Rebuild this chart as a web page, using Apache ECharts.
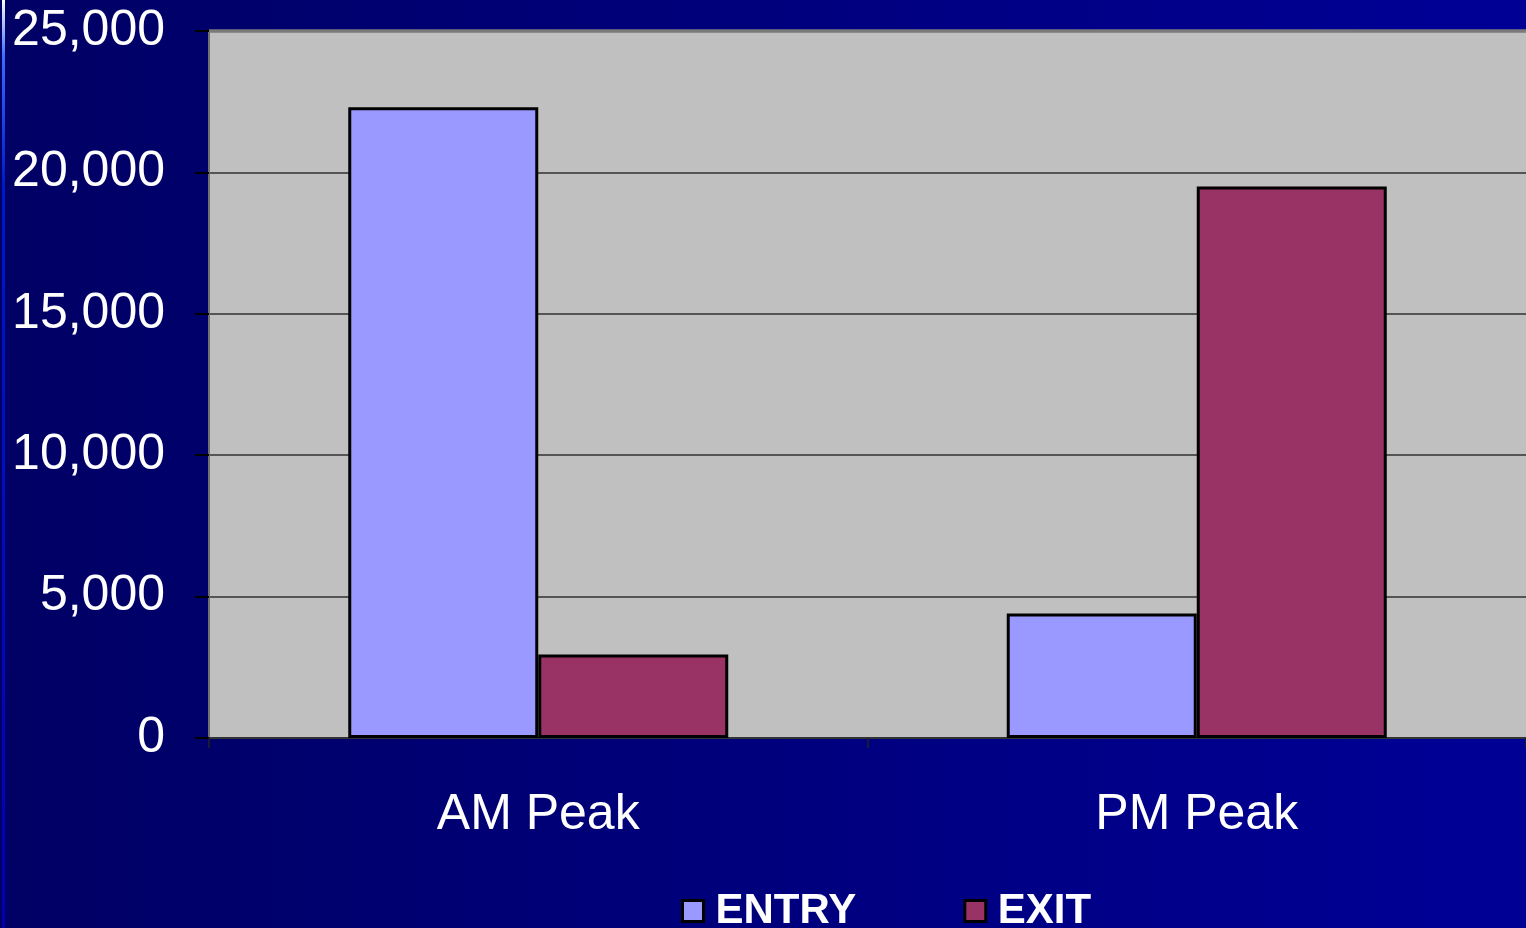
<!DOCTYPE html>
<html>
<head>
<meta charset="utf-8">
<title>Peak Entry / Exit</title>
<script src="https://cdn.jsdelivr.net/npm/echarts@6/dist/echarts.min.js"></script>
<style>
  html, body { margin: 0; padding: 0; width: 100%; height: 100%; overflow: hidden; }
  #chart { width: 1526px; height: 928px; }
</style>
</head>
<body>
<div id="chart"></div>
<script>
// Peak-period volumes
const categories = ['AM Peak', 'PM Peak'];
const entryValues = [22300, 4400];
const exitValues = [2950, 19500];
const yTicks = [0, 5000, 10000, 15000, 20000, 25000];

const FONT = '"Liberation Sans", Arial, sans-serif';
const chart = echarts.init(document.getElementById('chart'));

const fmt = v => v.toLocaleString('en-US');

chart.setOption({
  backgroundColor: {
    type: 'linear', x: 0, y: 0, x2: 1, y2: 0,
    colorStops: [
      { offset: 0, color: '#000064' },
      { offset: 1, color: '#000096' }
    ]
  },
  animation: false,
  graphic: [
    {
      type: 'rect',
      shape: { x: 2, y: 0, width: 3, height: 928 },
      style: {
        fill: {
          type: 'linear', x: 0, y: 0, x2: 0, y2: 1,
          colorStops: [
            { offset: 0, color: '#ffffff' },
            { offset: 0.06, color: '#3a6cff' },
            { offset: 0.2, color: '#0018c8' },
            { offset: 1, color: '#0000b0' }
          ]
        }
      },
      silent: true
    },
    {
      // plot-area top edge
      type: 'line',
      shape: { x1: 209, y1: 31, x2: 1526, y2: 31 },
      style: { stroke: '#7a7a7a', lineWidth: 3.5 },
      silent: true,
      z: 10
    }
  ],
  grid: {
    left: 209, top: 31, width: 1320, height: 707,
    show: true, backgroundColor: '#c0c0c0', borderWidth: 0
  },
  legend: {
    left: 681, top: 890, padding: 0,
    icon: 'rect',
    itemWidth: 21, itemHeight: 21, itemGap: 107,
    textStyle: { color: '#ffffff', fontFamily: FONT, fontWeight: 'bold', fontSize: 42, padding: [0, 0, 0, 7] },
    itemStyle: { borderColor: '#000000', borderWidth: 3 },
    data: ['ENTRY', 'EXIT']
  },
  xAxis: {
    type: 'category',
    data: categories,
    axisLine: { show: true, lineStyle: { color: '#333333', width: 2 } },
    axisTick: { show: true, length: 10, lineStyle: { color: '#222222', width: 1.5 } },
    axisLabel: { color: '#ffffff', fontFamily: FONT, fontSize: 50, margin: 52 },
    splitLine: { show: false }
  },
  yAxis: {
    type: 'value',
    min: 0, max: 25000, interval: 5000,
    axisLine: { show: true, lineStyle: { color: '#707070', width: 2 } },
    axisTick: { show: true, length: 14, lineStyle: { color: '#000000', width: 2 } },
    axisLabel: {
      color: '#ffffff', fontFamily: FONT, fontSize: 50, margin: 44,
      padding: [12, 0, 0, 0],
      formatter: v => yTicks.includes(v) ? fmt(v) : ''
    },
    splitLine: { show: true, lineStyle: { color: '#555555', width: 2 } }
  },
  series: [
    {
      name: 'ENTRY', type: 'bar', data: entryValues,
      barGap: '0%', barWidth: 190,
      itemStyle: { color: '#9999ff', borderColor: '#000000', borderWidth: 3 }
    },
    {
      name: 'EXIT', type: 'bar', data: exitValues,
      barGap: '0%', barWidth: 190,
      itemStyle: { color: '#993366', borderColor: '#000000', borderWidth: 3 }
    }
  ]
});
</script>
</body>
</html>
